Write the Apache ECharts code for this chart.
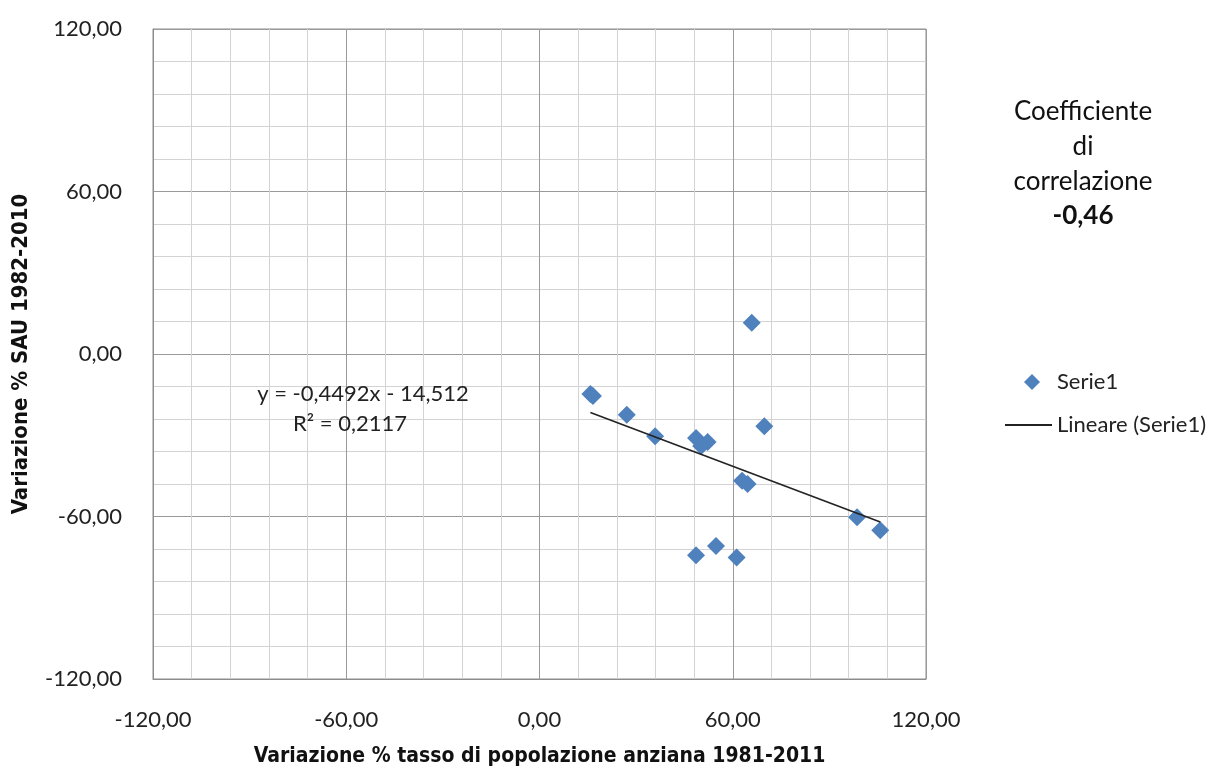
<!DOCTYPE html>
<html><head><meta charset="utf-8">
<script src="https://cdn.jsdelivr.net/npm/echarts@6/dist/echarts.min.js"></script>
<style>html,body{margin:0;padding:0;background:#fff}#c{width:1229px;height:772px}</style>
</head><body><div id="c"></div>
<script>
var xValues = [65.9, 15.8, 16.6, 27.1, 35.9, 48.6, 52.2, 50.2, 69.8, 62.9, 64.6, 98.6, 105.8, 48.6, 54.8, 61.2];
var yValues = [11.5, -14.8, -15.5, -22.4, -30.4, -31.0, -32.5, -34.0, -26.7, -46.8, -48.0, -60.3, -65.1, -74.3, -70.9, -75.1];
var trendSlope = -0.4492, trendIntercept = -14.512;
var axisMin = -120, axisMax = 120, majorStep = 60;

var points = xValues.map(function(x, i){ return [x, yValues[i]]; });
var xmin = Math.min.apply(null, xValues), xmax = Math.max.apply(null, xValues);
var trend = [[xmin, trendSlope*xmin + trendIntercept], [xmax, trendSlope*xmax + trendIntercept]];
var fmt = function(v){ return v.toFixed(2).replace('.', ','); };
var FONT = 'Lato, "Open Sans", sans-serif';
var NARROW = '"Liberation Sans Narrow", "DejaVu Sans Condensed", sans-serif';

function axis(name, isY){
  return {
    type:'value', min:axisMin, max:axisMax, interval:majorStep,
    name:name, nameLocation:'middle', nameGap: isY ? 121 : 67,
    nameTextStyle:{fontFamily:NARROW, fontWeight:'bold', fontSize: isY ? 22 : 21, color:'#111'},
    axisLine:{show:true, onZero:false, lineStyle:{color:'#8c8c8c', width:1}},
    axisTick:{show:false},
    axisLabel:{formatter:fmt, fontFamily:FONT, fontSize:22, color:'#222', margin: isY ? 31 : 30},
    splitLine:{show:true, lineStyle:{color:'#9a9a9a', width:1}},
    minorTick:{show:false, splitNumber:5},
    minorSplitLine:{show:true, lineStyle:{color:'#d3d3d3', width:1}}
  };
}

var chart = echarts.init(document.getElementById('c'));
chart.setOption({
  backgroundColor:'#fff',
  animation:false,
  grid:{left:153, top:29, width:773, height:658, show:true, borderColor:'#8c8c8c', borderWidth:1},
  xAxis: axis('Variazione % tasso di popolazione anziana 1981-2011', false),
  yAxis: axis('Variazione % SAU 1982-2010', true),
  legend:[
    {data:[{name:'Serie1', icon:'diamond'}], orient:'vertical', left:1024, top:371, itemWidth:16, itemHeight:16, padding:0,
     textStyle:{fontFamily:FONT, fontSize:22, color:'#222', padding:[0,0,0,12]}},
    {data:[{name:'Lineare (Serie1)', icon:'rect'}], orient:'vertical', left:1005, top:414, itemWidth:47, itemHeight:2, padding:0,
     textStyle:{fontFamily:FONT, fontSize:22, color:'#222'}}
  ],
  title:[
    {text:'Coefficiente\ndi\ncorrelazione', left:1083, top:94, textAlign:'center', padding:0,
     textStyle:{fontFamily:FONT, fontSize:26, fontWeight:'normal', color:'#111', lineHeight:35}},
    {text:'-0,46', left:1083, top:203, textAlign:'center', padding:0,
     textStyle:{fontFamily:FONT, fontSize:26, fontWeight:'bold', color:'#111'}},
    {text:'y = -0,4492x - 14,512', left:363, top:383, textAlign:'center', padding:0,
     textStyle:{fontFamily:FONT, fontSize:22, fontWeight:'normal', color:'#222'}},
    {text:'R² = 0,2117', left:350, top:413, textAlign:'center', padding:0,
     textStyle:{fontFamily:FONT, fontSize:22, fontWeight:'normal', color:'#222'}}
  ],
  series:[
    {name:'Lineare (Serie1)', type:'line', data:trend, symbol:'none', z:3,
     lineStyle:{color:'#222', width:1.6}, itemStyle:{color:'#222'}},
    {name:'Serie1', type:'scatter', data:points, symbol:'diamond', symbolSize:18, z:2,
     itemStyle:{color:'#4F81BD', opacity:1}}
  ]
});
</script></body></html>
